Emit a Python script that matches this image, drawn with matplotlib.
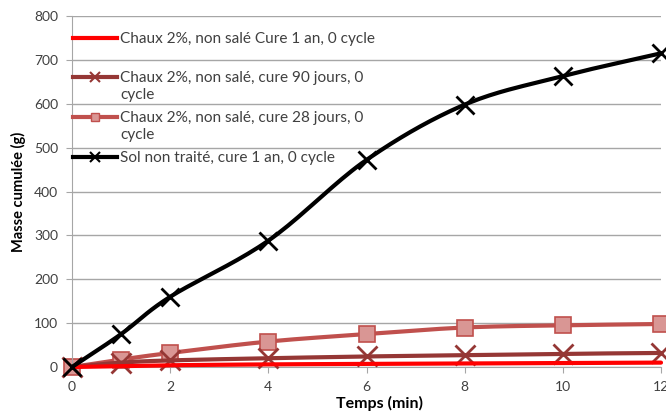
import numpy as np
import matplotlib
matplotlib.use("Agg")
import matplotlib.pyplot as plt
from matplotlib.lines import Line2D

plt.rcParams['font.family'] = ['Lato', 'DejaVu Sans']

temps = [0, 1, 2, 4, 6, 8, 10, 12]
chaux_1an = [0, 2, 4, 6, 7, 8, 9, 10]
chaux_90j = [0, 10, 15, 20, 24, 27, 30, 32]
chaux_28j = [0, 17, 32, 58, 75, 90, 95, 98]
sol_1an = [0, 75, 160, 288, 472, 598, 663, 715]

labels = ["Chaux 2%, non salé Cure 1 an, 0 cycle",
          "Chaux 2%, non salé, cure 90 jours, 0\ncycle",
          "Chaux 2%, non salé, cure 28 jours, 0\ncycle",
          "Sol non traité, cure 1 an, 0 cycle"]
yticks = [0, 100, 200, 300, 400, 500, 600, 700, 800]
xticks = [0, 2, 4, 6, 8, 10, 12]


def smooth(x, y, n=20):
    # Catmull-Rom style smoothing for display (like Excel smoothed lines)
    x = np.asarray(x, float); y = np.asarray(y, float)
    px = np.concatenate([[2*x[0]-x[1]], x, [2*x[-1]-x[-2]]])
    py = np.concatenate([[2*y[0]-y[1]], y, [2*y[-1]-y[-2]]])
    xs, ys = [], []
    for i in range(1, len(px)-2):
        t = np.linspace(0, 1, n, endpoint=False)
        for arr, out in ((px, xs), (py, ys)):
            p0, p1, p2, p3 = arr[i-1], arr[i], arr[i+1], arr[i+2]
            out.extend(0.5*((2*p1) + (-p0+p2)*t + (2*p0-5*p1+4*p2-p3)*t**2 + (-p0+3*p1-3*p2+p3)*t**3))
    xs.append(x[-1]); ys.append(y[-1])
    return np.array(xs), np.array(ys)


W, H = 666, 412
fig = plt.figure(figsize=(W/100, H/100), dpi=100)
L, R, T, B = 72, 661, 16, 367
ax = fig.add_axes([L/W, 1-B/H, (R-L)/W, (B-T)/H])
ax.set_xlim(0, 12)
ax.set_ylim(0, 800)

series = [
    (chaux_1an, '#FF0000', None, None, None, 0, 4),
    (chaux_90j, '#953735', 'x', '#953735', '#953735', 15, 3),
    (chaux_28j, '#C0504D', 's', '#D99694', '#C0504D', 11, 2),
    (sol_1an, '#000000', 'x', '#000000', '#000000', 13, 5),
]
for vals, col, mk, fc, ec, ms, z in series:
    sx, sy = smooth(temps, vals)
    ax.plot(sx, sy, color=col, lw=3, zorder=z, clip_on=False, solid_capstyle='round')
    if mk:
        ax.plot(temps, vals, ls='none', marker=mk, ms=ms, mfc=fc, mec=ec,
                mew=2 if mk == 'x' else 1.2, zorder=z, clip_on=False)

# hand-built legend (Excel-like layout), positions in figure pixels
leg_rows = [38, 77, 117, 157]
def fy(p):
    return 1 - p/H
for (vals, col, mk, fc, ec, ms, z), lab, yp in zip(series, labels, leg_rows):
    fig.add_artist(Line2D([73/W, 117/W], [fy(yp), fy(yp)], color=col, lw=3, zorder=6))
    if mk:
        fig.add_artist(Line2D([95/W], [fy(yp)], ls='none', marker=mk, ms=ms*0.5,
                              mfc=fc, mec=ec, mew=1.5 if mk == 'x' else 1, zorder=7))
    fig.text(120/W, fy(yp - 6), lab, ha='left', va='top', fontsize=11.1,
             color='#404040', linespacing=1.3, zorder=8)

ax.set_yticks(yticks)
ax.set_xticks(xticks)
ax.grid(axis='y', color='#A6A6A6', lw=1)
ax.set_axisbelow(True)
for s in ['top', 'right']:
    ax.spines[s].set_visible(False)
ax.spines['left'].set_color('#A6A6A6')
ax.spines['bottom'].set_color('#A6A6A6')
ax.tick_params(axis='y', length=4, direction='out', colors='#A6A6A6', labelcolor='#404040',
               labelsize=10, pad=6)
ax.tick_params(axis='x', length=4, direction='out', colors='#A6A6A6', labelcolor='#404040',
               labelsize=10, pad=6)
fig.text(379/W, fy(403), 'Temps (min)', ha='center', va='center', fontsize=11.5,
         fontweight='bold', color='#000000')
ax.set_ylabel('Masse cumulée (g)', fontsize=10.5, fontweight='bold', labelpad=6)

fig.savefig('out.png', dpi=100)
